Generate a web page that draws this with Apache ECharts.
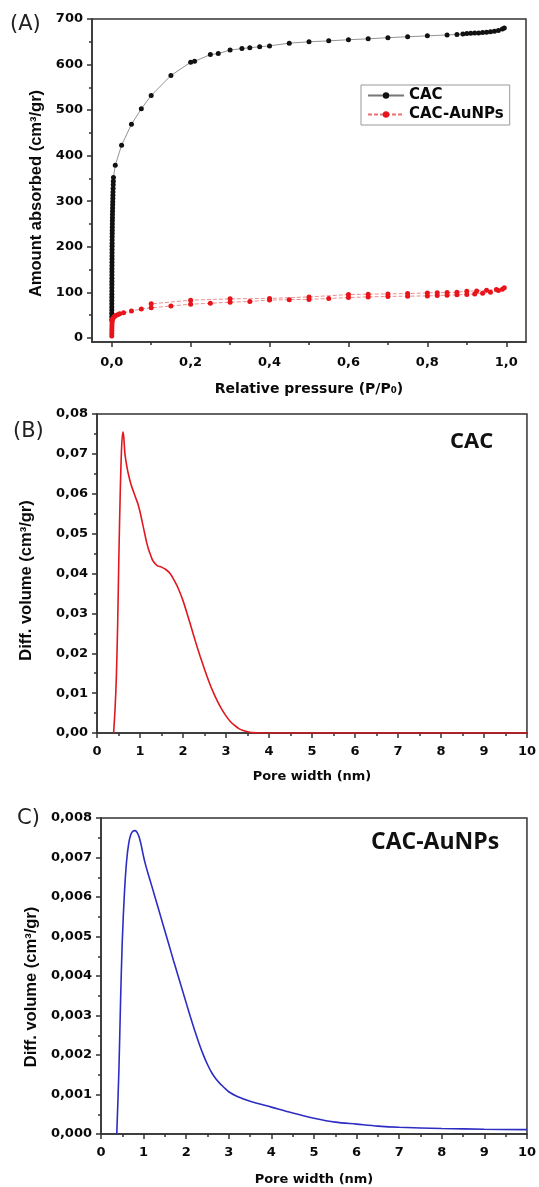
<!DOCTYPE html>
<html><head><meta charset="utf-8">
<script src="https://cdn.jsdelivr.net/npm/echarts@6/dist/echarts.min.js"></script>
<style>html,body{margin:0;padding:0;background:#fff}#c{width:539px;height:1187px}</style>
</head><body><div id="c"></div>
<script>
// ---------- Panel A: N2 isotherms ----------
const cacP = [0.0001,0.0001,0.0001,0.0002,0.0002,0.0002,0.0002,0.0003,0.0003,0.0003,0.0003,0.0004,0.0004,0.0004,0.0005,0.0005,0.0005,0.0006,0.0006,0.0007,0.0007,0.0008,0.0008,0.0009,0.001,0.001,0.0011,0.0012,0.0013,0.0014,0.0015,0.0016,0.0018,0.0019,0.002,0.0022,0.0024,0.0026,0.0028,0.003,0.0032,0.0035,0.0038,0.004,0.0044,0.009,0.025,0.05,0.075,0.1,0.15,0.2,0.21,0.25,0.27,0.3,0.33,0.35,0.375,0.4,0.45,0.5,0.55,0.6,0.65,0.7,0.75,0.8,0.85,0.875,0.89,0.9,0.91,0.92,0.93,0.94,0.95,0.96,0.97,0.98,0.99,0.995];
const cacV = [40,47,54,61,68,75,82,89,96,103,110,117,124,131,138,145,152,159,166,173,180,187,194,201,208,215,222,229,236,243,250,257,264,271,278,285,292,299,306,313,320,328,336,344,352,379,423,469,503,532,576,605,607,622,624,632,635,637,639,641,647,650,652,654.5,656.5,659,661,663,665,666,667,668,668.5,669,669.5,670.5,671,672,673,675,678,680];
const aunpP = [0.0001,0.0002,0.0003,0.0004,0.0006,0.0008,0.001,0.002,0.004,0.007,0.01,0.015,0.02,0.03,0.05,0.075,0.1,0.15,0.2,0.25,0.3,0.35,0.4,0.45,0.5,0.55,0.6,0.65,0.7,0.75,0.8,0.825,0.85,0.875,0.9,0.92,0.94,0.96,0.98,0.99,0.995,0.975,0.95,0.925,0.9,0.875,0.85,0.825,0.8,0.75,0.7,0.65,0.6,0.5,0.4,0.3,0.2,0.1];
const aunpV = [4,10,16,22,28,33,37,41,44,47,49,51,53,55,59,63.5,66,70,74,76,78.4,80,83,84,84.5,86.5,88.6,90,91,91.6,92.2,93,93.8,94.5,95.3,96.5,98,100,104,107,110,106,104.5,103,102.6,100,99.5,99.2,98.8,97.3,96.6,96,95,90,86.5,85.7,82.8,74.7];
const aXLabels = [0,0.2,0.4,0.6,0.8,1.0];
const aXMinor = [0.1,0.3,0.5,0.7,0.9];
const aYLabels = [0,100,200,300,400,500,600,700];
const aYMinor = [50,150,250,350,450,550,650];

// ---------- Panel B: CAC pore size distribution ----------
const bWidth = [0.386,0.42,0.45,0.48,0.51,0.54,0.57,0.60,0.62,0.65,0.70,0.75,0.80,0.85,0.90,0.95,1.00,1.05,1.10,1.15,1.20,1.25,1.30,1.40,1.50,1.60,1.70,1.80,1.90,2.00,2.10,2.20,2.30,2.40,2.50,2.60,2.70,2.80,2.90,3.00,3.10,3.20,3.30,3.40,3.50,3.60,3.80,4.0,5.0,6.0,7.0,8.0,9.0,10.0];
const bVol = [0,0.006,0.014,0.027,0.045,0.060,0.071,0.0755,0.0745,0.070,0.0665,0.064,0.062,0.0605,0.059,0.0575,0.0555,0.053,0.0505,0.048,0.046,0.0445,0.0432,0.0420,0.0416,0.0410,0.0400,0.0382,0.0360,0.0332,0.0298,0.0262,0.0226,0.0192,0.0160,0.0130,0.0103,0.0080,0.0060,0.0043,0.0029,0.0019,0.0011,0.0006,0.0003,0.0001,0,0,0,0,0,0,0,0];

// ---------- Panel C: CAC-AuNPs pore size distribution ----------
const cWidth = [0.37,0.42,0.46,0.50,0.55,0.60,0.65,0.70,0.75,0.80,0.85,0.90,0.95,1.00,1.05,1.10,1.20,1.30,1.40,1.50,1.60,1.70,1.80,1.90,2.00,2.10,2.20,2.30,2.40,2.50,2.60,2.70,2.80,3.00,3.20,3.50,4.00,4.50,5.00,5.50,6.00,6.50,7.00,8.00,9.00,10.00];
const cVol = [0,0.0016,0.0034,0.0049,0.0061,0.0069,0.00735,0.00758,0.00767,0.00768,0.00763,0.0075,0.00728,0.00702,0.0068,0.00661,0.00625,0.00588,0.00551,0.00514,0.00477,0.0044,0.00404,0.00368,0.00332,0.00296,0.00262,0.0023,0.00201,0.00176,0.00155,0.00139,0.00127,0.00107,0.00095,0.00083,0.00068,0.00053,0.0004,0.0003,0.00025,0.0002,0.00017,0.00014,0.00012,0.00011];

const pairs = (xs, ys) => xs.map((x, i) => [x, ys[i]]);
const AX = '#333';
const lblFont = {fontFamily:'DejaVu Sans', fontWeight:'bold', fontSize:13, color:'#0a0a0a'};
const xNameFont = {fontFamily:'DejaVu Sans', fontWeight:'bold', fontSize:13, color:'#0a0a0a'};
const yNameFont = {fontFamily:'Liberation Sans', fontWeight:'bold', fontSize:16.5, color:'#0a0a0a'};
const comma = (d) => (v) => Number(v).toFixed(d).replace('.', ',');

function mainAxis(extra) {
  return Object.assign({
    type:'value',
    axisLine:{show:true, onZero:false, lineStyle:{color:AX, width:1.5}},
    axisTick:{show:true, inside:false, length:5, lineStyle:{color:AX, width:1.5}},
    splitLine:{show:false},
    axisLabel:Object.assign({}, lblFont),
    nameLocation:'middle'
  }, extra);
}
function minorAxis(extra) {
  return Object.assign({
    type:'value',
    axisLine:{show:false, onZero:false},
    axisLabel:{show:false},
    splitLine:{show:false},
    axisTick:{show:true, inside:false, length:3, lineStyle:{color:AX, width:1.5}}
  }, extra);
}

const chart = echarts.init(document.getElementById('c'), null, {renderer:'canvas'});
const gridBorder = {show:true, borderColor:AX, borderWidth:1.5, backgroundColor:'transparent'};

const option = {
  backgroundColor:'#fff',
  animation:false,
  grid:[
    Object.assign({left:92, top:19, width:434, height:323}, gridBorder),
    Object.assign({left:97, top:414, width:431, height:319}, gridBorder),
    Object.assign({left:101, top:818, width:426, height:316}, gridBorder)
  ],
  xAxis:[
    mainAxis({gridIndex:0, min:-0.05, max:1.05, position:'bottom',
      name:'Relative pressure (P/P\u2080)', nameGap:40,
      nameTextStyle:Object.assign({}, xNameFont, {fontSize:14}),
      axisTick:{show:true, length:5, customValues:aXLabels, lineStyle:{color:AX, width:1.5}},
      axisLabel:Object.assign({customValues:aXLabels, formatter:comma(1), margin:14}, lblFont)}),
    minorAxis({gridIndex:0, min:-0.05, max:1.05, position:'bottom',
      axisTick:{show:true, length:3, customValues:aXMinor, lineStyle:{color:AX, width:1.5}}}),
    mainAxis({gridIndex:1, min:0, max:10, interval:1, name:'Pore width (nm)', nameGap:37,
      nameTextStyle:xNameFont,
      minorTick:{show:true, splitNumber:2, length:3, lineStyle:{color:AX, width:1.5}},
      axisLabel:Object.assign({margin:12}, lblFont)}),
    mainAxis({gridIndex:2, min:0, max:10, interval:1, name:'Pore width (nm)', nameGap:39,
      nameTextStyle:xNameFont,
      minorTick:{show:true, splitNumber:2, length:3, lineStyle:{color:AX, width:1.5}},
      axisLabel:Object.assign({margin:12}, lblFont)})
  ],
  yAxis:[
    mainAxis({gridIndex:0, min:-9, max:700, position:'left',
      name:'Amount absorbed (cm\u00b3/gr)', nameGap:47,
      nameTextStyle:Object.assign({padding:[0,26,0,0]}, yNameFont),
      axisTick:{show:true, length:5, customValues:aYLabels, lineStyle:{color:AX, width:1.5}},
      axisLabel:Object.assign({customValues:aYLabels, margin:9}, lblFont)}),
    minorAxis({gridIndex:0, min:-9, max:700, position:'left',
      axisTick:{show:true, length:3, customValues:aYMinor, lineStyle:{color:AX, width:1.5}}}),
    mainAxis({gridIndex:1, min:0, max:0.08, interval:0.01, name:'Diff. volume (cm\u00b3/gr)', nameGap:62,
      nameTextStyle:Object.assign({padding:[0,14,0,0]}, yNameFont),
      minorTick:{show:true, splitNumber:2, length:3, lineStyle:{color:AX, width:1.5}},
      axisLabel:Object.assign({formatter:comma(2), margin:9}, lblFont)}),
    mainAxis({gridIndex:2, min:0, max:0.008, interval:0.001, name:'Diff. volume (cm\u00b3/gr)', nameGap:60,
      nameTextStyle:Object.assign({padding:[0,22,0,0]}, yNameFont),
      minorTick:{show:true, splitNumber:2, length:3, lineStyle:{color:AX, width:1.5}},
      axisLabel:Object.assign({formatter:comma(3), margin:9}, lblFont)})
  ],
  legend:{
    left:361, top:85, orient:'vertical', padding:[3,6,3,6], itemGap:4,
    itemWidth:36, itemHeight:8,
    borderColor:'#999', borderWidth:1, backgroundColor:'#fff',
    textStyle:{fontFamily:'DejaVu Sans', fontWeight:'bold', fontSize:15, color:'#0a0a0a'},
    data:['CAC','CAC-AuNPs']
  },
  graphic:[
    {type:'text', left:10, top:14, style:{text:'(A)', fontFamily:'DejaVu Sans', fontSize:21, fill:'#222'}},
    {type:'text', left:13, top:421, style:{text:'(B)', fontFamily:'DejaVu Sans', fontSize:21, fill:'#222'}},
    {type:'text', left:17, top:808, style:{text:'C)', fontFamily:'DejaVu Sans', fontSize:21, fill:'#222'}},
    {type:'text', left:450, top:431, style:{text:'CAC', fontFamily:'Open Sans', fontWeight:'bold', fontSize:22, fill:'#111'}},
    {type:'text', left:371, top:831, style:{text:'CAC-AuNPs', fontFamily:'Open Sans', fontWeight:'bold', fontSize:23, fill:'#111'}}
  ],
  series:[
    {name:'CAC', type:'line', xAxisIndex:0, yAxisIndex:0, data:pairs(cacP, cacV),
      symbol:'circle', symbolSize:5, showSymbol:true,
      lineStyle:{color:'#777', width:0.8}, itemStyle:{color:'#111'}},
    {name:'CAC-AuNPs', type:'line', xAxisIndex:0, yAxisIndex:0, data:pairs(aunpP, aunpV),
      symbol:'circle', symbolSize:5, showSymbol:true,
      lineStyle:{color:'#e87070', width:0.8, type:[4,2]}, itemStyle:{color:'#e8141c'}},
    {name:'B', type:'line', xAxisIndex:2, yAxisIndex:2, data:pairs(bWidth, bVol),
      showSymbol:false, smooth:0.3,
      lineStyle:{color:'#e0181f', width:1.6}},
    {name:'C', type:'line', xAxisIndex:3, yAxisIndex:3, data:pairs(cWidth, cVol),
      showSymbol:false, smooth:0.3,
      lineStyle:{color:'#2d2dc4', width:1.6}}
  ]
};
chart.setOption(option);
</script>
</body></html>
